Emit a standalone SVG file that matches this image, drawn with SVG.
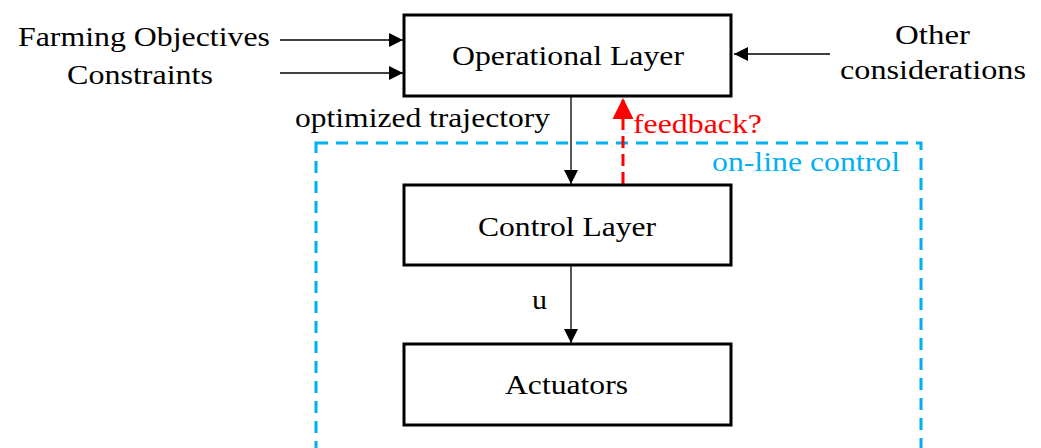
<svg xmlns="http://www.w3.org/2000/svg" width="1041" height="448" viewBox="0 0 1041 448">
<style>
.box{fill:#fff;stroke:#000;stroke-width:3}
.t{font-family:'Liberation Serif','DejaVu Serif',serif;font-size:28px;fill:#000}
.c{text-anchor:middle}
.ln{stroke:#000;stroke-width:1.3;fill:none}
</style>
<defs>
<marker id="ah" viewBox="0 0 10 10" refX="10" refY="5" markerWidth="14" markerHeight="14" markerUnits="userSpaceOnUse" orient="auto"><path d="M0,0 L10,5 L0,10 z" fill="#000"/></marker>
<marker id="ahr" viewBox="0 0 10 10" refX="10" refY="5" markerWidth="7" markerHeight="7" markerUnits="strokeWidth" orient="auto" style="overflow:visible"><path d="M0,0 L10,5 L0,10 z" fill="#f00"/></marker>
</defs>
<rect width="1041" height="448" fill="#fff"/>
<g id="online-control">
<rect x="316" y="143" width="605" height="330" fill="none" stroke="#00B0F0" stroke-width="3" stroke-dasharray="12,8"/>
<text class="t" x="712" y="171" textLength="188" lengthAdjust="spacingAndGlyphs" style="fill:#00B0F0">on-line control</text>
</g>
<g id="connectors">
<line class="ln" x1="280" y1="40" x2="403" y2="40" marker-end="url(#ah)"/>
<line class="ln" x1="280" y1="73" x2="403" y2="73" marker-end="url(#ah)"/>
<line class="ln" x1="830" y1="54" x2="734" y2="54" marker-end="url(#ah)"/>
<line class="ln" x1="571" y1="97" x2="571" y2="184" marker-end="url(#ah)"/>
<line class="ln" x1="571" y1="266" x2="571" y2="343" marker-end="url(#ah)"/>
<line x1="623" y1="184" x2="623" y2="98" stroke="#f00" stroke-width="3" stroke-dasharray="12,6" marker-end="url(#ahr)"/>
<text class="t" x="295" y="127" textLength="255" lengthAdjust="spacingAndGlyphs">optimized trajectory</text>
<text class="t" x="633" y="133" textLength="129" lengthAdjust="spacingAndGlyphs" style="fill:#f00">feedback?</text>
<text class="t" x="532" y="309" textLength="15" lengthAdjust="spacingAndGlyphs">u</text>
</g>
<g id="inputs">
<text class="t" x="18" y="46" textLength="252" lengthAdjust="spacingAndGlyphs">Farming Objectives</text>
<text class="t" x="67" y="84" textLength="146" lengthAdjust="spacingAndGlyphs">Constraints</text>
<text class="t" x="895" y="44" textLength="75" lengthAdjust="spacingAndGlyphs">Other</text>
<text class="t" x="840" y="79" textLength="186" lengthAdjust="spacingAndGlyphs">considerations</text>
</g>
<g id="operational">
<rect class="box" x="404" y="15" width="327" height="81"/>
<text class="t" x="452" y="65" textLength="232" lengthAdjust="spacingAndGlyphs">Operational Layer</text>
</g>
<g id="control">
<rect class="box" x="404" y="185" width="327" height="80"/>
<text class="t" x="478" y="236" textLength="178" lengthAdjust="spacingAndGlyphs">Control Layer</text>
</g>
<g id="actuators">
<rect class="box" x="404" y="344" width="327" height="81"/>
<text class="t" x="505" y="394" textLength="123" lengthAdjust="spacingAndGlyphs">Actuators</text>
</g>
</svg>
